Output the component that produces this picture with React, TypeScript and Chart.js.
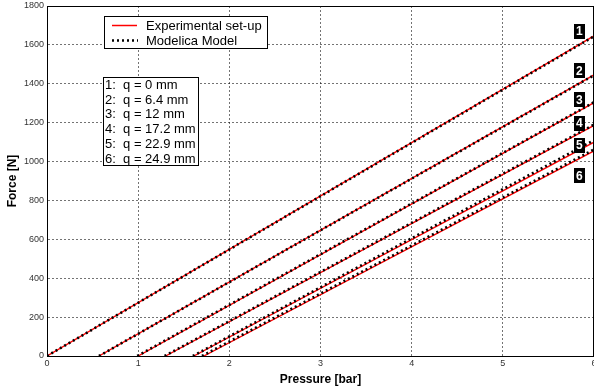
import { useEffect, useRef } from "react";
import { Chart, registerables } from "chart.js";

Chart.register(...registerables);

// ---- data ----
const pressureTicks = [0, 1, 2, 3, 4, 5, 6];
const forceTicks = [0, 200, 400, 600, 800, 1000, 1200, 1400, 1600, 1800];
const curveIds = ["1", "2", "3", "4", "5", "6"];
const strokeLabels = [
  "1:  q = 0 mm",
  "2:  q = 6.4 mm",
  "3:  q = 12 mm",
  "4:  q = 17.2 mm",
  "5:  q = 22.9 mm",
  "6:  q = 24.9 mm",
];
// pressure [bar] where force is 0, and force [N] at 6 bar
const expStartP = [0, 0.57, 1.0, 1.3, 1.61, 1.72];
const expEndF = [1646, 1446, 1303, 1186, 1100, 1055];
const modelStartP = [0, 0.57, 0.99, 1.29, 1.6, 1.7];
const modelEndF = [1644, 1444, 1305, 1190, 1110, 1062];
const endPressure = 6;
// curve number tags (data units)
const tagPressure = [5.845, 5.845, 5.845, 5.845, 5.845, 5.845];
const tagForce = [1671, 1466, 1317, 1198, 1085, 926];
const legendNames = ["Experimental set-up", "Modelica Model"];

const FONT = "'Liberation Sans', Arial, sans-serif";

export default function App() {
  const ref = useRef<HTMLCanvasElement | null>(null);

  useEffect(() => {
    if (!ref.current) return;
    const datasets: any[] = [];
    curveIds.forEach((id, i) => {
      datasets.push({
        label: "model " + id,
        data: [
          { x: modelStartP[i], y: 0 },
          { x: endPressure, y: modelEndF[i] },
        ],
        showLine: true,
        borderColor: "#000000",
        borderWidth: 2.6,
        borderDash: [2, 3],
        pointRadius: 0,
        order: 0,
      });
      datasets.push({
        label: "exp " + id,
        data: [
          { x: expStartP[i], y: 0 },
          { x: endPressure, y: expEndF[i] },
        ],
        showLine: true,
        borderColor: "#ff0000",
        borderWidth: 1.4,
        pointRadius: 0,
        order: 1,
      });
    });

    const overlay = {
      id: "overlay",
      afterDraw(chart: any) {
        const { ctx, chartArea: a, scales } = chart;
        const xs = scales.x;
        const ys = scales.y;
        ctx.save();
        // top / right border
        ctx.strokeStyle = "#000";
        ctx.lineWidth = 1;
        ctx.beginPath();
        ctx.moveTo(a.left, Math.round(a.top) + 0.5);
        ctx.lineTo(a.right, Math.round(a.top) + 0.5);
        ctx.moveTo(a.right - 0.5, a.top);
        ctx.lineTo(a.right - 0.5, a.bottom);
        ctx.stroke();

        // curve tags
        ctx.font = "bold 12px " + FONT;
        ctx.textAlign = "center";
        ctx.textBaseline = "middle";
        curveIds.forEach((id, i) => {
          const cx = xs.getPixelForValue(tagPressure[i]);
          const cy = ys.getPixelForValue(tagForce[i]);
          ctx.fillStyle = "#000";
          ctx.fillRect(Math.round(cx - 6), Math.round(cy - 7.5), 11, 15);
          ctx.fillStyle = "#fff";
          ctx.fillText(id, cx - 0.5, cy + 0.5);
        });

        // legend box
        const lx = a.left + 57;
        const ly = a.top + 10;
        ctx.fillStyle = "#fff";
        ctx.fillRect(lx, ly, 163, 32);
        ctx.strokeStyle = "#000";
        ctx.lineWidth = 1;
        ctx.strokeRect(lx + 0.5, ly + 0.5, 163, 32);
        ctx.strokeStyle = "#ff0000";
        ctx.lineWidth = 1.5;
        ctx.beginPath();
        ctx.moveTo(lx + 8, ly + 9.5);
        ctx.lineTo(lx + 33, ly + 9.5);
        ctx.stroke();
        ctx.strokeStyle = "#000";
        ctx.lineWidth = 2.6;
        ctx.setLineDash([2, 3]);
        ctx.beginPath();
        ctx.moveTo(lx + 8, ly + 24.5);
        ctx.lineTo(lx + 34, ly + 24.5);
        ctx.stroke();
        ctx.setLineDash([]);
        ctx.fillStyle = "#000";
        ctx.font = "13px " + FONT;
        ctx.textAlign = "left";
        ctx.textBaseline = "middle";
        ctx.fillText(legendNames[0], lx + 42, ly + 10);
        ctx.fillText(legendNames[1], lx + 42, ly + 25);

        // stroke annotation box
        const bx = a.left + 56;
        const by = a.top + 71;
        ctx.fillStyle = "#fff";
        ctx.fillRect(bx, by, 95, 88);
        ctx.strokeStyle = "#000";
        ctx.lineWidth = 1;
        ctx.strokeRect(bx + 0.5, by + 0.5, 95, 88);
        ctx.fillStyle = "#000";
        strokeLabels.forEach((t, i) => {
          ctx.fillText(t, bx + 2, by + 8.5 + i * 14.7);
        });
        ctx.restore();
      },
    };

    const chart = new Chart(ref.current, {
      type: "scatter",
      data: { datasets },
      plugins: [overlay],
      options: {
        animation: false,
        responsive: false,
        maintainAspectRatio: false,
        layout: { padding: { top: 6, right: -1, left: 0, bottom: 0 } },
        plugins: { legend: { display: false }, tooltip: { enabled: false } },
        scales: {
          x: {
            type: "linear",
            min: 0,
            max: 6,
            afterBuildTicks: (s: any) => {
              s.ticks = pressureTicks.map((v) => ({ value: v }));
            },
            afterFit: (s: any) => {
              s.height = 34;
              s.paddingLeft = 0;
              s.paddingRight = 0;
            },
            ticks: {
              font: { family: FONT, size: 9 },
              color: "#333",
              padding: 2,
              maxRotation: 0,
              autoSkip: false,
              callback: (v: any) => String(v),
            },
            grid: { color: "rgba(0,0,0,0.55)", lineWidth: 1, drawTicks: false },
            border: { display: true, color: "#000", width: 1, dash: [2, 2] },
            title: {
              display: true,
              text: "Pressure [bar]",
              font: { family: FONT, size: 12, weight: "bold" },
              color: "#000",
              padding: { top: 0, bottom: 3 },
            },
          },
          y: {
            type: "linear",
            min: 0,
            max: 1800,
            afterBuildTicks: (s: any) => {
              s.ticks = forceTicks.map((v) => ({ value: v }));
            },
            afterFit: (s: any) => {
              s.width = 47;
              s.paddingTop = 0;
              s.paddingBottom = 0;
            },
            ticks: {
              font: { family: FONT, size: 9 },
              color: "#333",
              padding: 3,
              autoSkip: false,
              callback: (v: any) => String(v),
            },
            grid: { color: "rgba(0,0,0,0.55)", lineWidth: 1, drawTicks: false },
            border: { display: true, color: "#000", width: 1, dash: [2, 2] },
            title: {
              display: true,
              text: "Force [N]",
              font: { family: FONT, size: 12, weight: "bold" },
              color: "#000",
              padding: { top: 5, bottom: 0 },
            },
          },
        },
      } as any,
    });
    return () => chart.destroy();
  }, []);

  return (
    <div style={{ position: "fixed", left: 0, top: 0, width: 594, height: 390, background: "#fff" }}>
      <canvas ref={ref} width={594} height={390} style={{ width: 594, height: 390, display: "block" }} />
    </div>
  );
}
